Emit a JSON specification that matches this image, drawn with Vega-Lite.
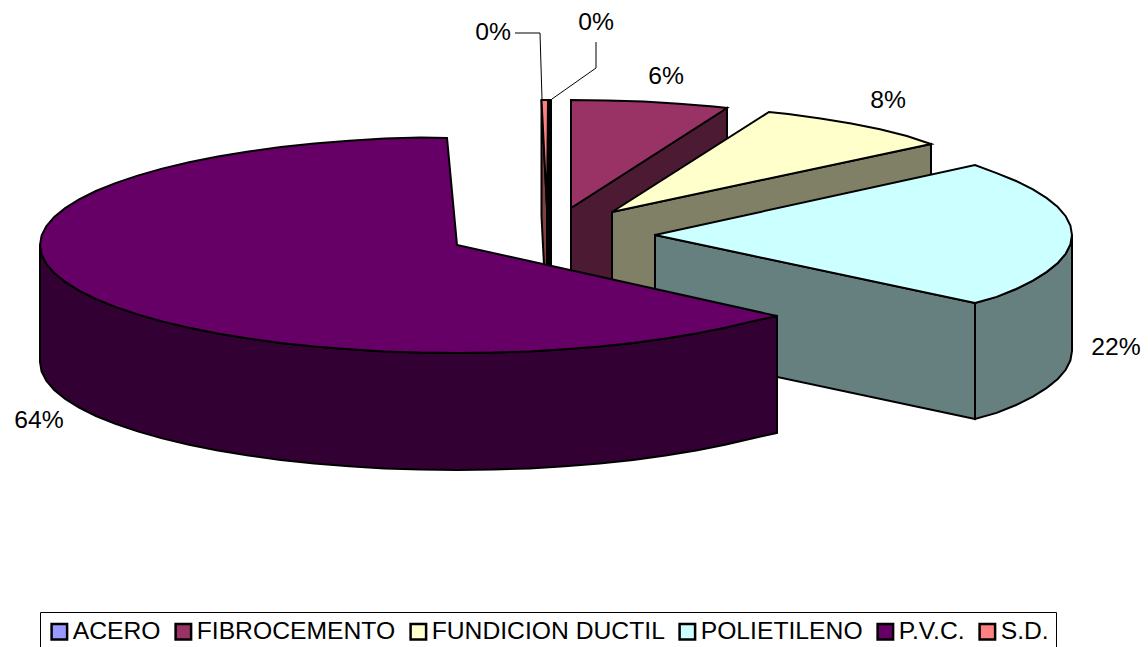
{"$schema":"https://vega.github.io/schema/vega-lite/v6.json","width":1148,"height":647,"padding":0,"autosize":{"type":"none"},"background":"white","config":{"view":{"stroke":null}},
"layer":[
{"data":{"values":[
{"s":"fibro-lado","f":"FIBROCEMENTO lado","o":1,"x":571,"y":208},{"s":"fibro-lado","f":"FIBROCEMENTO lado","o":2,"x":727,"y":108},{"s":"fibro-lado","f":"FIBROCEMENTO lado","o":3,"x":727,"y":224},{"s":"fibro-lado","f":"FIBROCEMENTO lado","o":4,"x":571,"y":324},
{"s":"fibro","f":"FIBROCEMENTO","o":1,"x":571,"y":208},{"s":"fibro","f":"FIBROCEMENTO","o":2,"x":571,"y":100},{"s":"fibro","f":"FIBROCEMENTO","o":3,"x":607.3,"y":100.4},{"s":"fibro","f":"FIBROCEMENTO","o":4,"x":643.4,"y":101.6},{"s":"fibro","f":"FIBROCEMENTO","o":5,"x":678.9,"y":103.7},{"s":"fibro","f":"FIBROCEMENTO","o":6,"x":713.6,"y":106.5},{"s":"fibro","f":"FIBROCEMENTO","o":7,"x":727,"y":108},
{"s":"fund-lado","f":"FUNDICION DUCTIL lado","o":1,"x":612,"y":212},{"s":"fund-lado","f":"FUNDICION DUCTIL lado","o":2,"x":931,"y":144},{"s":"fund-lado","f":"FUNDICION DUCTIL lado","o":3,"x":931,"y":260},{"s":"fund-lado","f":"FUNDICION DUCTIL lado","o":4,"x":612,"y":328},
{"s":"fund","f":"FUNDICION DUCTIL","o":1,"x":612,"y":212},{"s":"fund","f":"FUNDICION DUCTIL","o":2,"x":769,"y":112},{"s":"fund","f":"FUNDICION DUCTIL","o":3,"x":788.2,"y":114.1},{"s":"fund","f":"FUNDICION DUCTIL","o":4,"x":820.5,"y":118.5},{"s":"fund","f":"FUNDICION DUCTIL","o":5,"x":851.2,"y":123.5},{"s":"fund","f":"FUNDICION DUCTIL","o":6,"x":880,"y":129.3},{"s":"fund","f":"FUNDICION DUCTIL","o":7,"x":906.9,"y":136},{"s":"fund","f":"FUNDICION DUCTIL","o":8,"x":931,"y":144},
{"s":"poli-lado1","f":"POLIETILENO lado","o":1,"x":655,"y":235},{"s":"poli-lado1","f":"POLIETILENO lado","o":2,"x":975,"y":303},{"s":"poli-lado1","f":"POLIETILENO lado","o":3,"x":975,"y":419},{"s":"poli-lado1","f":"POLIETILENO lado","o":4,"x":655,"y":351},
{"s":"poli-lado2","f":"POLIETILENO lado","o":1,"x":975,"y":303},{"s":"poli-lado2","f":"POLIETILENO lado","o":2,"x":996.6,"y":296.9},{"s":"poli-lado2","f":"POLIETILENO lado","o":3,"x":1016.1,"y":289},{"s":"poli-lado2","f":"POLIETILENO lado","o":4,"x":1032.9,"y":280.6},{"s":"poli-lado2","f":"POLIETILENO lado","o":5,"x":1046.8,"y":271.9},{"s":"poli-lado2","f":"POLIETILENO lado","o":6,"x":1057.8,"y":263},{"s":"poli-lado2","f":"POLIETILENO lado","o":7,"x":1065.7,"y":253.8},{"s":"poli-lado2","f":"POLIETILENO lado","o":8,"x":1070.4,"y":244.4},{"s":"poli-lado2","f":"POLIETILENO lado","o":9,"x":1072,"y":235},{"s":"poli-lado2","f":"POLIETILENO lado","o":10,"x":1072,"y":351},{"s":"poli-lado2","f":"POLIETILENO lado","o":11,"x":1070.4,"y":360.4},{"s":"poli-lado2","f":"POLIETILENO lado","o":12,"x":1065.7,"y":369.8},{"s":"poli-lado2","f":"POLIETILENO lado","o":13,"x":1057.8,"y":379},{"s":"poli-lado2","f":"POLIETILENO lado","o":14,"x":1046.8,"y":387.9},{"s":"poli-lado2","f":"POLIETILENO lado","o":15,"x":1032.9,"y":396.6},{"s":"poli-lado2","f":"POLIETILENO lado","o":16,"x":1016.1,"y":405},{"s":"poli-lado2","f":"POLIETILENO lado","o":17,"x":996.6,"y":412.9},{"s":"poli-lado2","f":"POLIETILENO lado","o":18,"x":975,"y":419},
{"s":"poli","f":"POLIETILENO","o":1,"x":655,"y":235},{"s":"poli","f":"POLIETILENO","o":2,"x":975,"y":165},{"s":"poli","f":"POLIETILENO","o":3,"x":996.6,"y":173.1},{"s":"poli","f":"POLIETILENO","o":4,"x":1016.1,"y":181},{"s":"poli","f":"POLIETILENO","o":5,"x":1032.9,"y":189.4},{"s":"poli","f":"POLIETILENO","o":6,"x":1046.8,"y":198.1},{"s":"poli","f":"POLIETILENO","o":7,"x":1057.8,"y":207},{"s":"poli","f":"POLIETILENO","o":8,"x":1065.7,"y":216.2},{"s":"poli","f":"POLIETILENO","o":9,"x":1070.4,"y":225.6},{"s":"poli","f":"POLIETILENO","o":10,"x":1072,"y":235},{"s":"poli","f":"POLIETILENO","o":11,"x":1070.4,"y":244.4},{"s":"poli","f":"POLIETILENO","o":12,"x":1065.7,"y":253.8},{"s":"poli","f":"POLIETILENO","o":13,"x":1057.8,"y":263},{"s":"poli","f":"POLIETILENO","o":14,"x":1046.8,"y":271.9},{"s":"poli","f":"POLIETILENO","o":15,"x":1032.9,"y":280.6},{"s":"poli","f":"POLIETILENO","o":16,"x":1016.1,"y":289},{"s":"poli","f":"POLIETILENO","o":17,"x":996.6,"y":296.9},{"s":"poli","f":"POLIETILENO","o":18,"x":975,"y":303},
{"s":"sd-lado","f":"S.D. lado","o":1,"x":541.5,"y":100},{"s":"sd-lado","f":"S.D. lado","o":2,"x":547,"y":208},{"s":"sd-lado","f":"S.D. lado","o":3,"x":547,"y":324},{"s":"sd-lado","f":"S.D. lado","o":4,"x":541.5,"y":216},
{"s":"sd","f":"S.D.","o":1,"x":541.5,"y":100},{"s":"sd","f":"S.D.","o":2,"x":548,"y":100},{"s":"sd","f":"S.D.","o":3,"x":547,"y":208},
{"s":"acero","f":"ACERO","o":1,"x":549,"y":100},{"s":"acero","f":"ACERO","o":2,"x":551,"y":100},{"s":"acero","f":"ACERO","o":3,"x":551,"y":324},{"s":"acero","f":"ACERO","o":4,"x":549,"y":324},
{"s":"pvc-lado","f":"P.V.C. lado","o":1,"x":40,"y":245},{"s":"pvc-lado","f":"P.V.C. lado","o":2,"x":41.6,"y":254.4},{"s":"pvc-lado","f":"P.V.C. lado","o":3,"x":46.3,"y":263.8},{"s":"pvc-lado","f":"P.V.C. lado","o":4,"x":54.2,"y":273},{"s":"pvc-lado","f":"P.V.C. lado","o":5,"x":65.2,"y":281.9},{"s":"pvc-lado","f":"P.V.C. lado","o":6,"x":79.1,"y":290.6},{"s":"pvc-lado","f":"P.V.C. lado","o":7,"x":95.9,"y":299},{"s":"pvc-lado","f":"P.V.C. lado","o":8,"x":137.6,"y":314.4},{"s":"pvc-lado","f":"P.V.C. lado","o":9,"x":189,"y":327.7},{"s":"pvc-lado","f":"P.V.C. lado","o":10,"x":248.5,"y":338.5},{"s":"pvc-lado","f":"P.V.C. lado","o":11,"x":314.4,"y":346.5},{"s":"pvc-lado","f":"P.V.C. lado","o":12,"x":384.6,"y":351.4},{"s":"pvc-lado","f":"P.V.C. lado","o":13,"x":457,"y":353},{"s":"pvc-lado","f":"P.V.C. lado","o":14,"x":529.4,"y":351.4},{"s":"pvc-lado","f":"P.V.C. lado","o":15,"x":599.6,"y":346.5},{"s":"pvc-lado","f":"P.V.C. lado","o":16,"x":665.5,"y":338.5},{"s":"pvc-lado","f":"P.V.C. lado","o":17,"x":725,"y":327.7},{"s":"pvc-lado","f":"P.V.C. lado","o":18,"x":777,"y":316},{"s":"pvc-lado","f":"P.V.C. lado","o":19,"x":777,"y":433},{"s":"pvc-lado","f":"P.V.C. lado","o":20,"x":725,"y":444.7},{"s":"pvc-lado","f":"P.V.C. lado","o":21,"x":665.5,"y":455.5},{"s":"pvc-lado","f":"P.V.C. lado","o":22,"x":599.6,"y":463.5},{"s":"pvc-lado","f":"P.V.C. lado","o":23,"x":529.4,"y":468.4},{"s":"pvc-lado","f":"P.V.C. lado","o":24,"x":457,"y":470},{"s":"pvc-lado","f":"P.V.C. lado","o":25,"x":384.6,"y":468.4},{"s":"pvc-lado","f":"P.V.C. lado","o":26,"x":314.4,"y":463.5},{"s":"pvc-lado","f":"P.V.C. lado","o":27,"x":248.5,"y":455.5},{"s":"pvc-lado","f":"P.V.C. lado","o":28,"x":189,"y":444.7},{"s":"pvc-lado","f":"P.V.C. lado","o":29,"x":137.6,"y":431.4},{"s":"pvc-lado","f":"P.V.C. lado","o":30,"x":95.9,"y":416},{"s":"pvc-lado","f":"P.V.C. lado","o":31,"x":79.1,"y":407.6},{"s":"pvc-lado","f":"P.V.C. lado","o":32,"x":65.2,"y":398.9},{"s":"pvc-lado","f":"P.V.C. lado","o":33,"x":54.2,"y":390},{"s":"pvc-lado","f":"P.V.C. lado","o":34,"x":46.3,"y":380.8},{"s":"pvc-lado","f":"P.V.C. lado","o":35,"x":41.6,"y":371.4},{"s":"pvc-lado","f":"P.V.C. lado","o":36,"x":40,"y":362},
{"s":"pvc-lado","f":"P.V.C. lado","o":7.5,"x":115.4,"y":306.9},{"s":"pvc-lado","f":"P.V.C. lado","o":8.5,"x":162.1,"y":321.4},{"s":"pvc-lado","f":"P.V.C. lado","o":9.5,"x":217.8,"y":333.5},{"s":"pvc-lado","f":"P.V.C. lado","o":10.5,"x":280.8,"y":342.9},{"s":"pvc-lado","f":"P.V.C. lado","o":11.5,"x":349.1,"y":349.3},{"s":"pvc-lado","f":"P.V.C. lado","o":12.5,"x":420.7,"y":352.6},{"s":"pvc-lado","f":"P.V.C. lado","o":13.5,"x":493.3,"y":352.6},{"s":"pvc-lado","f":"P.V.C. lado","o":14.5,"x":564.9,"y":349.3},{"s":"pvc-lado","f":"P.V.C. lado","o":15.5,"x":633.2,"y":342.9},{"s":"pvc-lado","f":"P.V.C. lado","o":16.5,"x":696.2,"y":333.5},{"s":"pvc-lado","f":"P.V.C. lado","o":17.5,"x":751.9,"y":321.4},
{"s":"pvc-lado","f":"P.V.C. lado","o":19.5,"x":751.9,"y":438.4},{"s":"pvc-lado","f":"P.V.C. lado","o":20.5,"x":696.2,"y":450.5},{"s":"pvc-lado","f":"P.V.C. lado","o":21.5,"x":633.2,"y":459.9},{"s":"pvc-lado","f":"P.V.C. lado","o":22.5,"x":564.9,"y":466.3},{"s":"pvc-lado","f":"P.V.C. lado","o":23.5,"x":493.3,"y":469.6},{"s":"pvc-lado","f":"P.V.C. lado","o":24.5,"x":420.7,"y":469.6},{"s":"pvc-lado","f":"P.V.C. lado","o":25.5,"x":349.1,"y":466.3},{"s":"pvc-lado","f":"P.V.C. lado","o":26.5,"x":280.8,"y":459.9},{"s":"pvc-lado","f":"P.V.C. lado","o":27.5,"x":217.8,"y":450.5},{"s":"pvc-lado","f":"P.V.C. lado","o":28.5,"x":162.1,"y":438.4},{"s":"pvc-lado","f":"P.V.C. lado","o":29.5,"x":115.4,"y":423.9},
{"s":"pvc","f":"P.V.C.","o":1,"x":457,"y":245},{"s":"pvc","f":"P.V.C.","o":2,"x":447,"y":138},{"s":"pvc","f":"P.V.C.","o":3,"x":384.6,"y":138.6},{"s":"pvc","f":"P.V.C.","o":4,"x":314.4,"y":143.5},{"s":"pvc","f":"P.V.C.","o":5,"x":248.5,"y":151.5},{"s":"pvc","f":"P.V.C.","o":6,"x":189,"y":162.3},{"s":"pvc","f":"P.V.C.","o":7,"x":137.6,"y":175.6},{"s":"pvc","f":"P.V.C.","o":8,"x":95.9,"y":191},{"s":"pvc","f":"P.V.C.","o":9,"x":79.1,"y":199.4},{"s":"pvc","f":"P.V.C.","o":10,"x":65.2,"y":208.1},{"s":"pvc","f":"P.V.C.","o":11,"x":54.2,"y":217},{"s":"pvc","f":"P.V.C.","o":12,"x":46.3,"y":226.2},{"s":"pvc","f":"P.V.C.","o":13,"x":41.6,"y":235.6},{"s":"pvc","f":"P.V.C.","o":14,"x":40,"y":245},{"s":"pvc","f":"P.V.C.","o":15,"x":41.6,"y":254.4},{"s":"pvc","f":"P.V.C.","o":16,"x":46.3,"y":263.8},{"s":"pvc","f":"P.V.C.","o":17,"x":54.2,"y":273},{"s":"pvc","f":"P.V.C.","o":18,"x":65.2,"y":281.9},{"s":"pvc","f":"P.V.C.","o":19,"x":79.1,"y":290.6},{"s":"pvc","f":"P.V.C.","o":20,"x":95.9,"y":299},{"s":"pvc","f":"P.V.C.","o":21,"x":137.6,"y":314.4},{"s":"pvc","f":"P.V.C.","o":22,"x":189,"y":327.7},{"s":"pvc","f":"P.V.C.","o":23,"x":248.5,"y":338.5},{"s":"pvc","f":"P.V.C.","o":24,"x":314.4,"y":346.5},{"s":"pvc","f":"P.V.C.","o":25,"x":384.6,"y":351.4},{"s":"pvc","f":"P.V.C.","o":26,"x":457,"y":353},{"s":"pvc","f":"P.V.C.","o":27,"x":529.4,"y":351.4},{"s":"pvc","f":"P.V.C.","o":28,"x":599.6,"y":346.5},{"s":"pvc","f":"P.V.C.","o":29,"x":665.5,"y":338.5},{"s":"pvc","f":"P.V.C.","o":30,"x":725,"y":327.7},{"s":"pvc","f":"P.V.C.","o":31,"x":777,"y":316},
{"s":"pvc","f":"P.V.C.","o":2.5,"x":420.7,"y":137.4},{"s":"pvc","f":"P.V.C.","o":3.5,"x":349.1,"y":140.7},{"s":"pvc","f":"P.V.C.","o":4.5,"x":280.8,"y":147.1},{"s":"pvc","f":"P.V.C.","o":5.5,"x":217.8,"y":156.5},{"s":"pvc","f":"P.V.C.","o":6.5,"x":162.1,"y":168.6},{"s":"pvc","f":"P.V.C.","o":7.5,"x":115.4,"y":183.1},
{"s":"pvc","f":"P.V.C.","o":20.5,"x":115.4,"y":306.9},{"s":"pvc","f":"P.V.C.","o":21.5,"x":162.1,"y":321.4},{"s":"pvc","f":"P.V.C.","o":22.5,"x":217.8,"y":333.5},{"s":"pvc","f":"P.V.C.","o":23.5,"x":280.8,"y":342.9},{"s":"pvc","f":"P.V.C.","o":24.5,"x":349.1,"y":349.3},{"s":"pvc","f":"P.V.C.","o":25.5,"x":420.7,"y":352.6},{"s":"pvc","f":"P.V.C.","o":26.5,"x":493.3,"y":352.6},{"s":"pvc","f":"P.V.C.","o":27.5,"x":564.9,"y":349.3},{"s":"pvc","f":"P.V.C.","o":28.5,"x":633.2,"y":342.9},{"s":"pvc","f":"P.V.C.","o":29.5,"x":696.2,"y":333.5},{"s":"pvc","f":"P.V.C.","o":30.5,"x":751.9,"y":321.4}
]},
"mark":{"type":"line","interpolate":"linear-closed","stroke":"#000000","strokeWidth":2,"strokeJoin":"miter"},
"encoding":{
"x":{"field":"x","type":"quantitative","scale":{"domain":[0,1148],"nice":false,"zero":false},"axis":null},
"y":{"field":"y","type":"quantitative","scale":{"domain":[647,0],"nice":false,"zero":false},"axis":null},
"detail":{"field":"s"},
"order":{"field":"o","type":"quantitative"},
"fill":{"field":"f","type":"nominal","scale":{"domain":["ACERO","FIBROCEMENTO","FUNDICION DUCTIL","POLIETILENO","P.V.C.","S.D.","FIBROCEMENTO lado","FUNDICION DUCTIL lado","POLIETILENO lado","P.V.C. lado","S.D. lado"],"range":["#9999FF","#993366","#FFFFCC","#CCFFFF","#660066","#FF8080","#4D1A33","#808066","#668080","#330033","#804040"]},
"legend":{"values":["ACERO","FIBROCEMENTO","FUNDICION DUCTIL","POLIETILENO","P.V.C.","S.D."],"title":null,"orient":"none","legendX":40,"legendY":612,"direction":"horizontal","columns":6,"symbolType":"square","symbolSize":240,"symbolStrokeColor":"#000000","symbolStrokeWidth":2.5,"labelFont":"Liberation Sans","labelFontSize":24.7,"labelColor":"#000000","labelOffset":1,"columnPadding":9,"padding":7,"strokeColor":"#000000","fillColor":"#FFFFFF","labelLimit":400}}
}},
{"data":{"values":[
{"l":"a","o":1,"x":515,"y":33},{"l":"a","o":2,"x":540,"y":33},{"l":"a","o":3,"x":542,"y":99},
{"l":"b","o":1,"x":596,"y":42},{"l":"b","o":2,"x":596,"y":68},{"l":"b","o":3,"x":552,"y":99}
]},
"mark":{"type":"line","stroke":"#000000","strokeWidth":1},
"encoding":{"x":{"field":"x","type":"quantitative","scale":{"domain":[0,1148],"nice":false,"zero":false},"axis":null},"y":{"field":"y","type":"quantitative","scale":{"domain":[647,0],"nice":false,"zero":false},"axis":null},"detail":{"field":"l"},"order":{"field":"o","type":"quantitative"}}},
{"data":{"values":[
{"t":"64%","x":39,"y":421},{"t":"22%","x":1116,"y":348},{"t":"8%","x":888,"y":101},{"t":"6%","x":666,"y":77},{"t":"0%","x":493,"y":33},{"t":"0%","x":596,"y":23}
]},
"mark":{"type":"text","font":"Liberation Sans","fontSize":24.7,"color":"#000000","align":"center","baseline":"middle"},
"encoding":{"x":{"field":"x","type":"quantitative","scale":{"domain":[0,1148],"nice":false,"zero":false},"axis":null},"y":{"field":"y","type":"quantitative","scale":{"domain":[647,0],"nice":false,"zero":false},"axis":null},"text":{"field":"t"}}}
]}
